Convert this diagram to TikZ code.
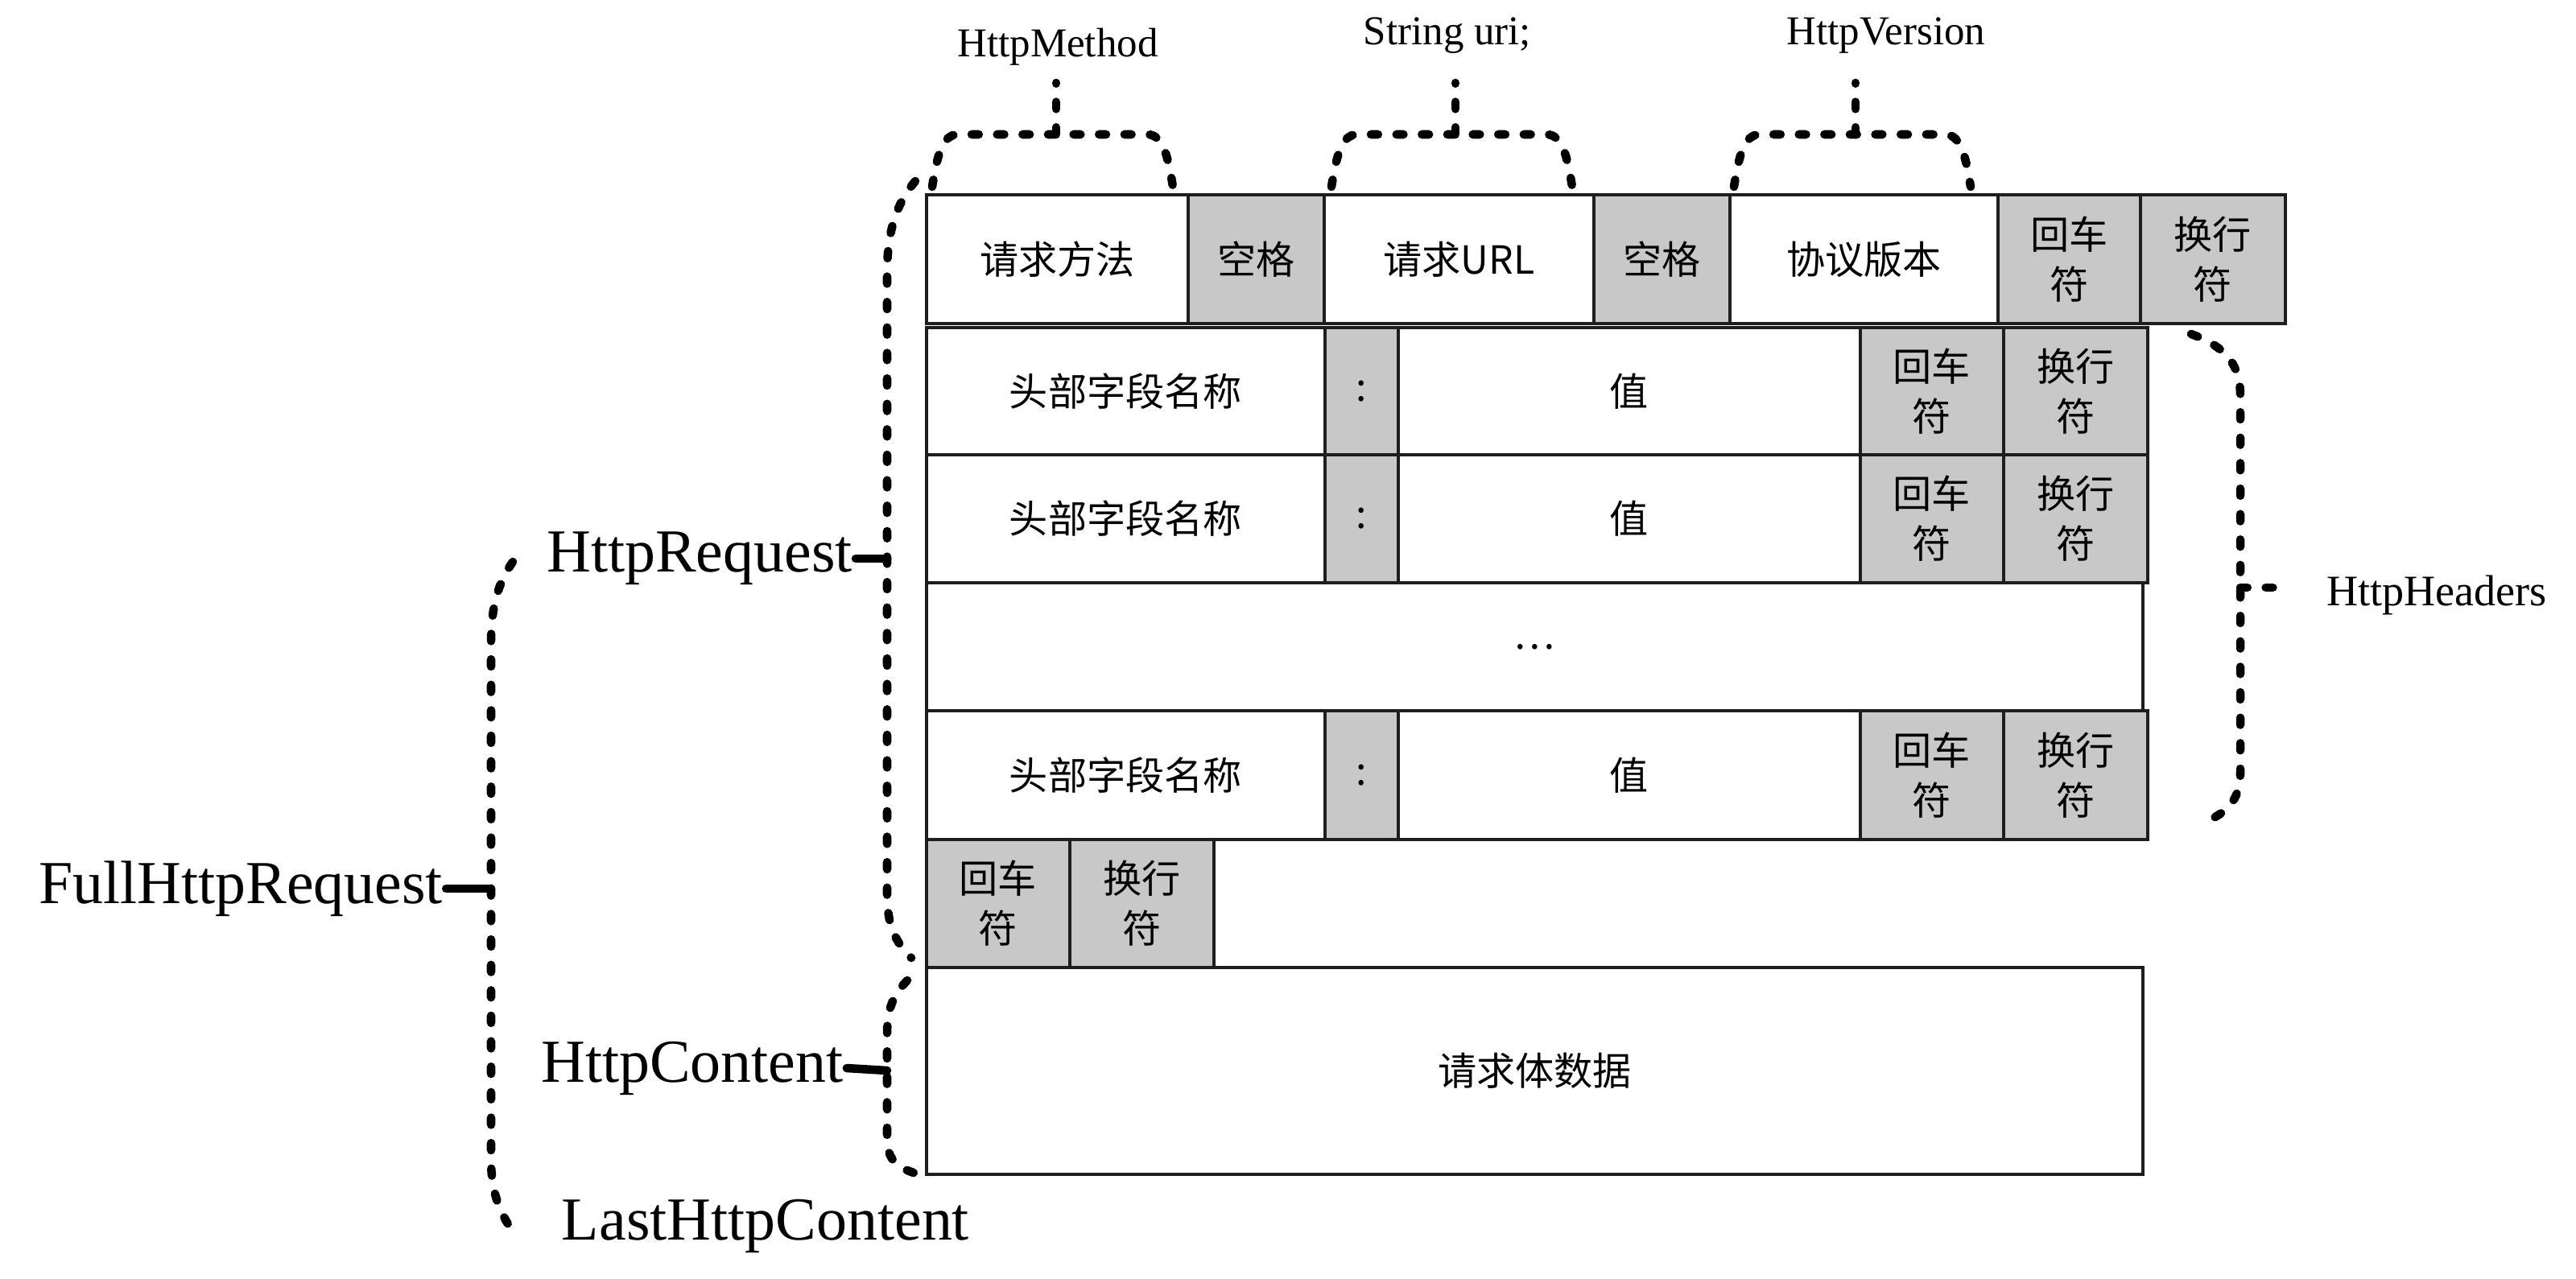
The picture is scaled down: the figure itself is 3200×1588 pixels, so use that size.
\documentclass[tikz,border=0pt]{standalone}
\usepackage{fontspec}
\setmainfont{Liberation Serif}
\newfontfamily\cjk{Noto Sans CJK SC}
\usepackage{xcolor}
\usepackage{tikz}
\definecolor{cellgray}{HTML}{C8C8C8}
\definecolor{ink}{HTML}{1E1E1E}
\tikzset{
  cell/.style={draw=ink, line width=1.1pt, inner sep=0pt, anchor=north west, align=center,
    font=\cjk\fontsize{13.7}{17.6}\selectfont},
  whitecell/.style={cell, fill=white},
  greycell/.style={cell, fill=cellgray},
  brk/.style={draw=black, line width=3pt, line cap=round, dash pattern=on 2.5pt off 6.5pt},
  stub/.style={draw=black, line width=3pt, line cap=round},
  biglab/.style={font=\fontsize{21.6}{26}\selectfont, inner sep=1pt},
  toplab/.style={font=\fontsize{14.5}{17}\selectfont, inner sep=1pt},
  sidelab/.style={font=\fontsize{15.4}{18}\selectfont, inner sep=1pt},
}
\newcommand{\cellat}[7]{\node[#1, minimum width={(#5-#3)*0.1mm}, minimum height={(#6-#4)*0.1mm}] (#2) at (#3,#4) {#7};}

\begin{document}
\begin{tikzpicture}[x=0.1mm,y=-0.1mm]
  \useasboundingbox (0,0) rectangle (3200,1588);
  % request line
  \cellat{whitecell}{method}{1149}{240}{1474}{400}{请求方法}
  \cellat{greycell}{sp1}{1474}{240}{1643}{400}{空格}
  \cellat{whitecell}{url}{1643}{240}{1978}{400}{请求URL}
  \cellat{greycell}{sp2}{1978}{240}{2147}{400}{空格}
  \cellat{whitecell}{version}{2147}{240}{2480}{400}{协议版本}
  \cellat{greycell}{cr0}{2480}{240}{2657}{400}{回车\\符}
  \cellat{greycell}{lf0}{2657}{240}{2837}{400}{换行\\符}
  % header lines
  \foreach \r/\y/\z in {1/405/563, 2/563/722, 3/881/1041} {
    \cellat{whitecell}{name\r}{1149}{\y}{1644}{\z}{头部字段名称}
    \cellat{greycell}{colon\r}{1644}{\y}{1735}{\z}{:}
    \cellat{whitecell}{value\r}{1735}{\y}{2309}{\z}{值}
    \cellat{greycell}{cr\r}{2309}{\y}{2487}{\z}{回车\\符}
    \cellat{greycell}{lf\r}{2487}{\y}{2666}{\z}{换行\\符}
  }
  \cellat{whitecell}{more}{1149}{722}{2660}{881}{…}
  \cellat{greycell}{crend}{1149}{1041}{1327}{1200}{回车\\符}
  \cellat{greycell}{lfend}{1327}{1041}{1506}{1200}{换行\\符}
  \cellat{whitecell}{body}{1149}{1200}{2660}{1457}{请求体数据}

  \node[biglab] (full) at (299,1104) {FullHttpRequest};
  \node[biglab] (req) at (869,694) {HttpRequest};
  \node[biglab] (cont) at (860,1327) {HttpContent};
  \node[biglab] (last) at (951,1523) {LastHttpContent};
  \node[sidelab] (hdrs) at (3027,739) {HttpHeaders};
  \node[toplab] (mth) at (1314,58) {HttpMethod};
  \node[toplab] (uri) at (1798,44) {String uri;};
  \node[toplab] (ver) at (2343,44) {HttpVersion};

  \coordinate (reqmid) at (1102,694);
  \coordinate (contmid) at (1102,1330);
  \coordinate (fullmid) at (610,1104);
  \coordinate (hdrmid) at (2783,730);
  \coordinate (hdrend) at (2834,730);

  % braces
  \draw[brk] (1137,225) .. controls (1112,255) and (1102,290) .. (1102,340) -- (1102,1110)
    .. controls (1102,1150) and (1112,1170) .. (1132,1190);
  \draw[brk] (1127,1218) .. controls (1108,1238) and (1102,1255) .. (1102,1285) -- (1102,1415)
    .. controls (1102,1440) and (1114,1450) .. (1135,1457);
  \draw[brk] (637,698) .. controls (616,728) and (610,760) .. (610,800) -- (610,1440)
    .. controls (610,1480) and (620,1505) .. (637,1530);
  \draw[brk] (2722,415) .. controls (2762,430) and (2783,450) .. (2783,492) -- (2783,960)
    .. controls (2783,995) and (2765,1010) .. (2738,1022);
  \foreach \a/\b/\m in {1158/1457/1312, 1654/1953/1808, 2154/2448/2305} {
    \draw[brk] (\a,232) .. controls ({\a+6},195) and ({\a+12},167) .. ({\a+32},167) -- ({\b-32},167)
      .. controls ({\b-12},167) and ({\b-6},195) .. (\b,232);
    \draw[brk] (\m,167) -- (\m,103);
  }

  \draw[stub] (req.east) -- (reqmid);
  \draw[stub] (cont.east) -- (contmid);
  \draw[stub] (full.east) -- (fullmid);
  \draw[brk] (hdrmid) -- (hdrend);
\end{tikzpicture}
\end{document}
